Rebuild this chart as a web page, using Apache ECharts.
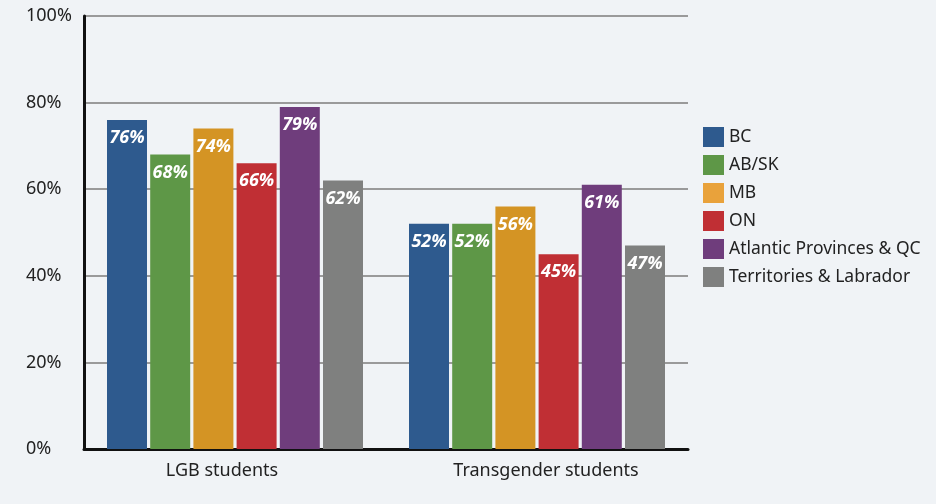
<!DOCTYPE html>
<html>
<head>
<meta charset="utf-8">
<script src="https://cdn.jsdelivr.net/npm/echarts@6/dist/echarts.min.js"></script>
<style>
	html, body { margin: 0; padding: 0; background: #f0f3f6; }
	#chart { width: 936px; height: 504px; }
</style>
</head>
<body>
<div id="chart"></div>
<script>
const categories = ["LGB students", "Transgender students"];
const regions = ["BC", "AB/SK", "MB", "ON", "Atlantic Provinces & QC", "Territories & Labrador"];
const regionValues = [
	[76, 52],
	[68, 52],
	[74, 56],
	[66, 45],
	[79, 61],
	[62, 47],
];
const colors = ["#2e5a8e", "#5e9747", "#d49424", "#c02f34", "#6f3d7c", "#7f807f"];
const legendColors = ["#2e5a8e", "#5e9747", "#e9a23b", "#c02f34", "#6f3d7c", "#7f807f"];

const font = "Noto Sans";

const chart = echarts.init(document.getElementById("chart"));
const series = regions.map((name, i) => ({
	name: name,
	type: "bar",
	data: regionValues[i],
	barWidth: 40,
	barGap: "8%",
	barCategoryGap: "15%",
	itemStyle: { color: colors[i] },
	label: {
		show: true,
		position: "insideTop",
		distance: 9,
		color: "#fff",
		fontFamily: font,
		fontStyle: "italic",
		fontWeight: "bold",
		fontSize: 18,
		formatter: "{c}%",
	},
}));

chart.setOption({
	backgroundColor: "#f0f3f6",
	animation: false,
	grid: { left: 84, right: 248, top: 16, bottom: 55 },
	legend: {
		orient: "vertical",
		left: 698,
		top: 122,
		itemWidth: 21,
		itemHeight: 20,
		itemGap: 8,
		icon: "rect",
		textStyle: { fontFamily: font, fontSize: 17.5, color: "#222" },
		data: regions.map((name, i) => ({ name: name, itemStyle: { color: legendColors[i] } })),
	},
	xAxis: {
		type: "category",
		data: categories,
		axisLine: { lineStyle: { color: "#111", width: 3 } },
		axisTick: { show: false },
		axisLabel: {
			fontFamily: font,
			fontSize: 18,
			color: "#222",
			margin: 13,
			// labels sit a bit off-centre in the original
			formatter: (v, i) => (i === 0 ? "{a|" + v + "}" : "{b|" + v + "}"),
			rich: {
				a: { fontFamily: font, fontSize: 18, color: "#222", padding: [0, 26, 0, 0] },
				b: { fontFamily: font, fontSize: 18, color: "#222", padding: [0, 0, 0, 18] },
			},
		},
	},
	yAxis: {
		type: "value",
		min: 0,
		max: 100,
		interval: 20,
		axisLine: { show: true, lineStyle: { color: "#111", width: 3 } },
		axisTick: { show: false },
		axisLabel: { fontFamily: font, fontSize: 18, color: "#222", margin: 58, align: "left", formatter: "{value}%" },
		splitLine: { lineStyle: { color: "#9a9a9a", width: 2 } },
	},
	series: series,
});
</script>
</body>
</html>
